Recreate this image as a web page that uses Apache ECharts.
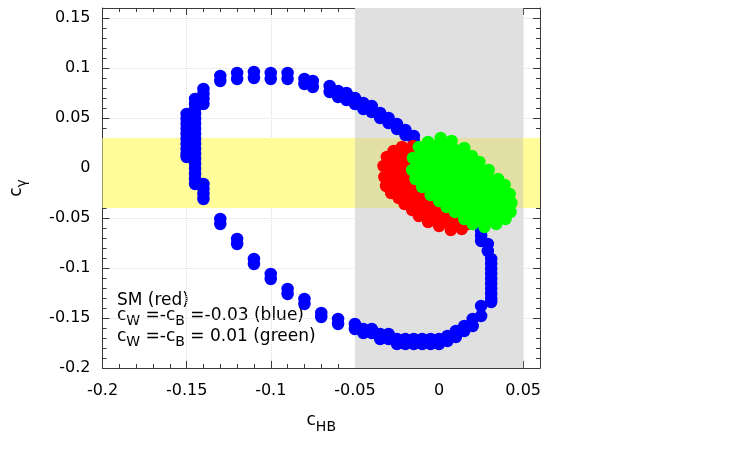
<!DOCTYPE html>
<html><head><meta charset="utf-8">
<script src="https://cdn.jsdelivr.net/npm/echarts@6/dist/echarts.min.js"></script>
<style>html,body{margin:0;padding:0;background:#fff}#c{width:750px;height:450px}</style>
</head><body><div id="c"></div>
<script>
// axis ranges / ticks
const xRange = [-0.2, 0.06];
const yRange = [-0.2, 0.16];
const majorStep = 0.05;
const minorStep = 0.01;
// shaded bands
const grayBandX = [-0.05, 0.05];
const yellowBandY = [-0.04, 0.03];

// c_W = -c_B = -0.03 (blue)
const blueX = [
 -0.15,-0.15,-0.15,-0.15,-0.15,-0.15,-0.15,-0.15,-0.15,-0.15,
 -0.145,-0.145,-0.145,-0.145,-0.145,-0.145,-0.145,-0.145,-0.145,-0.145,-0.145,-0.145,-0.145,-0.145,-0.145,-0.145,-0.145,-0.145,
 -0.14,-0.14,-0.14,-0.14,-0.14,-0.14,-0.14,-0.14,
 -0.13,-0.13,-0.13,-0.13,
 -0.12,-0.12,-0.12,-0.12,
 -0.11,-0.11,-0.11,-0.11,
 -0.10,-0.10,-0.10,-0.10,
 -0.09,-0.09,-0.09,-0.09,
 -0.08,-0.08,-0.08,-0.08,
 -0.075,-0.075,
 -0.07,-0.07,
 -0.065,-0.065,
 -0.06,-0.06,-0.06,-0.06,
 -0.055,-0.055,
 -0.05,-0.05,-0.05,-0.05,
 -0.045,-0.045,-0.045,-0.045,
 -0.04,-0.04,-0.04,-0.04,
 -0.035,-0.035,-0.035,-0.035,
 -0.03,-0.03,-0.03,-0.03,
 -0.025,-0.025,-0.025,-0.025,
 -0.02,-0.02,-0.02,-0.02,
 -0.015,-0.015,-0.015,-0.015,
 -0.01,-0.01,
 -0.005,-0.005,
 0,0,
 0.005,0.005,
 0.01,0.01,
 0.015,0.015,
 0.02,0.02,
 0.025,0.025,0.025,0.025,0.025,0.025,
 0.029,0.029,
 0.031,0.031,0.031,0.031,0.031,0.031,0.031,0.031,0.031,0.031
];
const blueY = [
 0.054,0.049,0.044,0.039,0.034,0.029,0.024,0.019,0.014,0.011,
 0.069,0.064,0.059,0.054,0.049,0.044,0.039,0.034,0.029,0.024,0.019,0.014,0.009,0.004,-0.001,-0.006,-0.011,-0.016,
 0.079,0.074,0.069,0.064,-0.016,-0.021,-0.026,-0.031,
 0.092,0.087,-0.051,-0.056,
 0.095,0.089,-0.071,-0.076,
 0.096,0.090,-0.091,-0.096,
 0.095,0.089,-0.106,-0.111,
 0.095,0.089,-0.121,-0.126,
 0.089,0.084,-0.131,-0.136,
 0.087,0.081,
 -0.145,-0.149,
 0.082,0.076,
 0.077,0.071,-0.151,-0.156,
 0.075,0.068,
 0.070,0.064,-0.156,-0.161,
 0.065,0.059,-0.161,-0.165,
 0.062,0.056,-0.161,-0.165,
 0.055,0.050,-0.166,-0.171,
 0.050,0.045,-0.166,-0.171,
 0.044,0.039,-0.171,-0.176,
 0.038,0.033,-0.171,-0.176,
 0.032,0.027,-0.171,-0.176,
 -0.171,-0.176,
 -0.171,-0.176,
 -0.171,-0.176,
 -0.168,-0.173,
 -0.163,-0.169,
 -0.158,-0.163,
 -0.151,-0.158,
 -0.058,-0.063,-0.068,-0.073,-0.138,-0.148,
 -0.076,-0.083,
 -0.091,-0.096,-0.101,-0.106,-0.111,-0.116,-0.121,-0.126,-0.131,-0.134
];

// SM (red) region outline
const redX = [-0.027,-0.022,-0.0155,-0.0075,-0.0005,0.0075,0.014,0.019,0.017,0.0135,0.007,0,-0.0065,-0.012,-0.016,-0.0205,-0.024,-0.0285,-0.0315,-0.0325,-0.033,-0.031];
const redY = [0.017,0.021,0.022,0.016,0.004,-0.011,-0.027,-0.044,-0.056,-0.061,-0.062,-0.058,-0.054,-0.048,-0.042,-0.036,-0.030,-0.025,-0.018,-0.009,0.002,0.011];

// c_W = -c_B = 0.01 (green) region outline
const greenX = [-0.012,-0.0065,0.001,0.0075,0.015,0.0195,0.024,0.0295,0.035,0.039,0.042,0.043,0.0425,0.0395,0.034,0.027,0.020,0.015,0.0095,0.0045,0,-0.005,-0.010,-0.014,-0.016,-0.0155];
const greenY = [0.021,0.026,0.030,0.027,0.020,0.012,0.006,-0.002,-0.011,-0.017,-0.026,-0.035,-0.044,-0.051,-0.056,-0.059,-0.056,-0.051,-0.044,-0.039,-0.033,-0.027,-0.019,-0.011,-0.002,0.010];

const legendLines = ['SM (red)', '{n|c}{s|W}{n| =-c}{s|B}{n| =-0.03 (blue)}', '{n|c}{s|W}{n| =-c}{s|B}{n| = 0.01 (green)}'];

const FONT = 'DejaVu Sans';
const AX = '#3a3a3a';
const zip = (xs, ys) => xs.map((x, i) => [x, ys[i]]);

function blob(xs, ys, color) {
  return function (params, api) {
    if (params.dataIndex !== 0) return null;
    const pts = xs.map((x, i) => api.coord([x, ys[i]]));
    return { type: 'polygon', shape: { points: pts }, style: { fill: color } };
  };
}

function xAx(pos, step, major, withLabels) {
  const a = {
    type: 'value', position: pos, min: xRange[0], max: xRange[1], interval: step,
    axisLine: { show: major, onZero: false, lineStyle: { color: AX, width: 1 } },
    axisTick: { show: true, inside: true, length: major ? 7 : 4, lineStyle: { color: AX } },
    axisLabel: { show: withLabels, showMaxLabel: false, color: '#000', fontSize: 16, fontFamily: FONT, margin: 15 },
    splitLine: { show: withLabels, lineStyle: { color: '#dcdcdc', type: 'dotted' } }
  };
  if (withLabels) {
    a.name = '{c|c}{s|HB}';
    a.nameLocation = 'middle';
    a.nameGap = 40;
    a.nameTextStyle = { rich: {
      c: { fontSize: 17, fontFamily: FONT, color: '#000', lineHeight: 26 },
      s: { fontSize: 14, fontFamily: FONT, color: '#000', lineHeight: 14, verticalAlign: 'bottom' } } };
  }
  return a;
}
function yAx(pos, step, major, withLabels) {
  const a = {
    type: 'value', position: pos, min: yRange[0], max: yRange[1], interval: step,
    axisLine: { show: major, onZero: false, lineStyle: { color: AX, width: 1 } },
    axisTick: { show: true, inside: true, length: major ? 7 : 4, lineStyle: { color: AX } },
    axisLabel: { show: withLabels, showMaxLabel: false, color: '#000', fontSize: 16, fontFamily: FONT, margin: 12 },
    splitLine: { show: withLabels, lineStyle: { color: '#dcdcdc', type: 'dotted' } }
  };
  if (withLabels) {
    a.name = '{c|c}{s|γ}';
    a.nameLocation = 'middle';
    a.nameGap = 73;
    a.nameTextStyle = { rich: {
      c: { fontSize: 17, fontFamily: FONT, color: '#000', lineHeight: 26 },
      s: { fontSize: 14, fontFamily: FONT, color: '#000', lineHeight: 14, verticalAlign: 'bottom' } } };
  }
  return a;
}

const chart = echarts.init(document.getElementById('c'), null, { renderer: 'canvas' });
const nStyle = { fontSize: 17, fontFamily: FONT, fill: '#000', lineHeight: 26 };
const sStyle = { fontSize: 14, fontFamily: FONT, fill: '#000', lineHeight: 14, verticalAlign: 'bottom' };

chart.setOption({
  animation: false,
  backgroundColor: '#fff',
  grid: { left: 100, top: 8, width: 440, height: 360, containLabel: false },
  xAxis: [xAx('bottom', majorStep, true, true), xAx('bottom', minorStep, false, false),
          xAx('top', majorStep, true, false), xAx('top', minorStep, false, false)],
  yAxis: [yAx('left', majorStep, true, true), yAx('left', minorStep, false, false),
          yAx('right', majorStep, true, false), yAx('right', minorStep, false, false)],
  graphic: [
    { type: 'text', left: 117, top: 292, silent: true,
      style: { text: legendLines[0], font: '17px "DejaVu Sans"', fill: '#000' } },
    { type: 'text', left: 117, top: 307, silent: true,
      style: { text: legendLines[1], rich: { n: nStyle, s: sStyle }, fill: '#000' } },
    { type: 'text', left: 117, top: 328, silent: true,
      style: { text: legendLines[2], rich: { n: nStyle, s: sStyle }, fill: '#000' } }
  ],
  series: [
    { type: 'scatter', data: [], z: -1, silent: true,
      markArea: { silent: true, data: [
        [{ xAxis: grayBandX[0], itemStyle: { color: '#e0e0e0' } }, { xAxis: grayBandX[1] }],
        [{ yAxis: yellowBandY[1], itemStyle: { color: '#fffc99' } }, { yAxis: yellowBandY[0] }],
        [{ xAxis: grayBandX[0], yAxis: yellowBandY[1], itemStyle: { color: '#e3e0a6' } }, { xAxis: grayBandX[1], yAxis: yellowBandY[0] }]
      ] } },
    { type: 'scatter', data: zip(blueX, blueY), symbolSize: 12.5, itemStyle: { color: '#0000ff', opacity: 1 }, z: 2, silent: true },
    { type: 'custom', coordinateSystem: 'cartesian2d', data: [[redX[0], redY[0]]], renderItem: blob(redX, redY, '#ff0000'), z: 3, silent: true },
    { type: 'scatter', data: zip(redX, redY), symbolSize: 12.5, itemStyle: { color: '#ff0000', opacity: 1 }, z: 3, silent: true },
    { type: 'custom', coordinateSystem: 'cartesian2d', data: [[greenX[0], greenY[0]]], renderItem: blob(greenX, greenY, '#00ff00'), z: 4, silent: true },
    { type: 'scatter', data: zip(greenX, greenY), symbolSize: 12.5, itemStyle: { color: '#00ff00', opacity: 1 }, z: 4, silent: true }
  ]
});
</script>
</body></html>
